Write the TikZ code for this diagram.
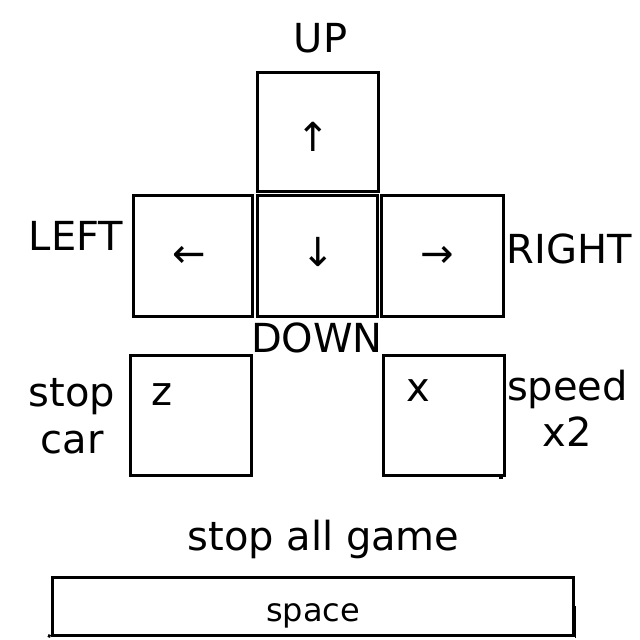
\documentclass[tikz,border=0pt]{standalone}
\usepackage{fontspec}
\setmainfont{DejaVu Sans}
\begin{document}
\begin{tikzpicture}[x=1pt,y=-1pt,
  keybox/.style={draw, line width=3pt, minimum width=121pt, minimum height=120pt, inner sep=0pt},
  lbl/.style={font=\fontsize{40}{46.5}\selectfont, inner sep=0pt, anchor=base, align=center},
  arr/.style={font=\fontsize{40}{48}\selectfont, inner sep=0pt, anchor=center}]
\useasboundingbox (0,0) rectangle (640,640);
% arrow keys
\node[keybox, minimum height=119pt] (up) at (317.5,132) {};
\node[keybox, minimum width=119pt, minimum height=121pt] (left) at (192.5,255.7) {};
\node[keybox, minimum width=120pt, minimum height=121pt] (down) at (317,255.7) {};
\node[keybox, minimum width=122pt, minimum height=121pt] (right) at (442,255.7) {};
\node[arr] (upa) at (313,137) {↑};
\node[arr] (lefta) at (189,257) {←};
\node[arr] (downa) at (318,252) {↓};
\node[arr] (righta) at (437,257) {→};
% labels
\node[lbl] (uplbl) at (320.5,52.7) {UP};
\node[lbl] (leftlbl) at (76,250) {LEFT};
\node[lbl] (rightlbl) at (569,263) {RIGHT};
\node[lbl] (downlbl) at (317,352) {DOWN};
% z and x keys
\node[keybox] (zkey) at (191,415.5) {};
\node[keybox] (xkey) at (444,415.5) {};
\node[lbl] (ztxt) at (162,405.7) {z};
\node[lbl] (xtxt) at (418.5,401.7) {x};
\fill (498.5,474) rectangle (503,479);
\node[lbl] (stopcar) at (72,453) {stop\\car};
\node[lbl] (speed) at (567.5,446.7) {speed\\x2};
% space bar
\node[lbl] (stopall) at (323.5,550) {stop all game};
\node[draw, line width=3pt, minimum width=521pt, minimum height=58pt, inner sep=0pt] (space) at (312.5,606) {};
\draw[line width=3pt] (48,635.5) -- (space.south west);
\draw[line width=3pt] (space.south east) -- ++(1.5,0);
\draw[line width=2pt] (574.5,606) -- (574.5,635);
\node[lbl, font=\fontsize{32}{38}\selectfont] (spacetxt) at (313,621) {space};
\end{tikzpicture}
\end{document}
